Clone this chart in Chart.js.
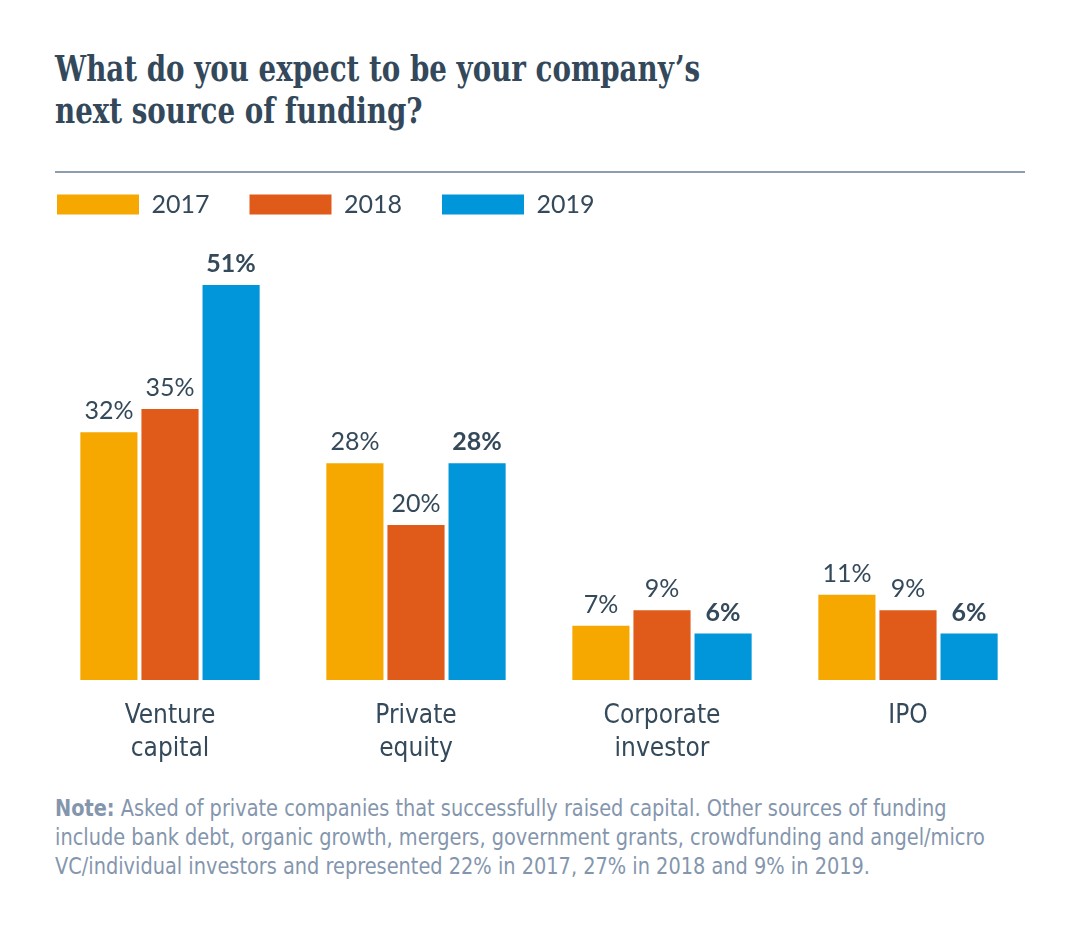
<!DOCTYPE html>
<html lang="en">
<head>
    <meta charset="UTF-8">
    <title>Next source of funding</title>
    <script src="https://cdn.jsdelivr.net/npm/chart.js"></script>
    <style>
        body { margin: 0; width: 1080px; height: 926px; background: #fff; position: relative; overflow: hidden; }
        #title {
            position: absolute; left: 55px; top: 48px; white-space: nowrap;
            font-family: "DejaVu Serif Condensed", "DejaVu Serif", serif;
            font-weight: bold; font-size: 35px; line-height: 42px; color: #33495b;
            transform: scaleX(0.88); transform-origin: left top;
        }
        #rule { position: absolute; left: 55px; top: 171px; width: 970px; height: 2px; background: #8c9db2; }
        #chartBox { position: absolute; left: 17px; top: 152px; width: 1014px; height: 634px; }
        #note {
            position: absolute; left: 55px; top: 794px; white-space: nowrap;
            font-family: "DejaVu Sans Condensed", sans-serif;
            font-size: 23px; line-height: 29px; color: #8496ad;
            transform: scaleX(0.935); transform-origin: left top;
        }
    </style>
</head>
<body>
    <div id="title">What do you expect to be your company’s<br>next source of funding?</div>
    <div id="rule"></div>
    <div id="chartBox"><canvas id="fundingChart"></canvas></div>
    <div id="note"><b>Note:</b> Asked of private companies that successfully raised capital. Other sources of funding<br>include bank debt, organic growth, mergers, government grants, crowdfunding and angel/micro<br>VC/individual investors and represented 22% in 2017, 27% in 2018 and 9% in 2019.</div>

    <script>
        const categories = [['Venture', 'capital'], ['Private', 'equity'], ['Corporate', 'investor'], ['IPO']];
        const years = ['2017', '2018', '2019'];
        const values2017 = [32, 28, 7, 11];
        const values2018 = [35, 20, 9, 9];
        const values2019 = [51, 28, 6, 6];
        const colors = ['#f6a800', '#e05a19', '#0096d9'];

        const textColor = '#34495a';

        // Prozentwerte über den Balken, 2019 fett
        const valueLabels = {
            id: 'valueLabels',
            afterDatasetsDraw(chart) {
                const ctx = chart.ctx;
                ctx.save();
                ctx.fillStyle = textColor;
                ctx.textAlign = 'center';
                ctx.textBaseline = 'alphabetic';
                chart.data.datasets.forEach((ds, i) => {
                    ctx.font = (i === 2 ? 'bold ' : '') + '25px Lato';
                    chart.getDatasetMeta(i).data.forEach((bar, j) => {
                        ctx.fillText(ds.data[j] + '%', bar.x, bar.y - 13);
                    });
                });
                ctx.restore();
            }
        };

        const ctx = document.getElementById('fundingChart').getContext('2d');
        new Chart(ctx, {
            type: 'bar',
            data: {
                labels: categories,
                datasets: [values2017, values2018, values2019].map((data, i) => ({
                    label: years[i],
                    data: data,
                    backgroundColor: colors[i],
                    categoryPercentage: 0.745,
                    barPercentage: 0.935
                }))
            },
            options: {
                responsive: true,
                maintainAspectRatio: false,
                animation: false,
                layout: { padding: 0 },
                plugins: {
                    legend: {
                        align: 'start',
                        labels: {
                            boxWidth: 82,
                            boxHeight: 20,
                            padding: 40,
                            color: textColor,
                            font: { family: 'Lato', size: 25 }
                        }
                    },
                    tooltip: { enabled: false }
                },
                scales: {
                    x: {
                        grid: { display: false, drawTicks: false },
                        border: { display: false },
                        ticks: {
                            padding: 20,
                            color: textColor,
                            font: { family: '"DejaVu Sans Condensed", sans-serif', size: 26, lineHeight: 1.27 }
                        }
                    },
                    y: {
                        min: 0,
                        max: 58.5,
                        grid: { display: false, drawTicks: false },
                        border: { display: false },
                        ticks: { display: false },
                        afterFit(scale) { scale.width = 30; }
                    }
                }
            },
            plugins: [valueLabels]
        });
    </script>
</body>
</html>
